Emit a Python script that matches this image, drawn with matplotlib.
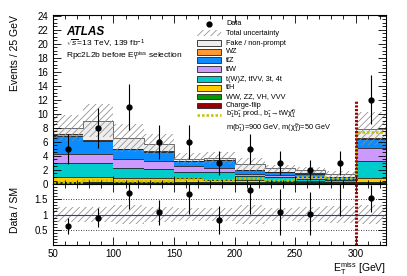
import numpy as np
import matplotlib
matplotlib.use("Agg")
import matplotlib.pyplot as plt
from matplotlib.patches import Rectangle
from matplotlib.ticker import MultipleLocator, FixedLocator

plt.rcParams['font.family'] = ['Liberation Sans', 'DejaVu Sans']
plt.rcParams['mathtext.fontset'] = 'custom'
plt.rcParams['mathtext.rm'] = 'Liberation Sans'
plt.rcParams['mathtext.it'] = 'Liberation Sans:italic'
plt.rcParams['mathtext.bf'] = 'Liberation Sans:bold'
plt.rcParams['hatch.linewidth'] = 0.55

# binning (last bin = overflow)
edges = [50, 75, 100, 125, 150, 175, 200, 225, 250, 275, 300, 325]

# background yields per bin
charge_flip = [0.15, 0.15, 0.15, 0.15, 0.15, 0.15, 0.15, 0.15, 0.15, 0.15, 0.15]
vv = [0.15, 0.15, 0.15, 0.15, 0.15, 0.15, 0.15, 0.15, 0.15, 0.15, 0.15]
tth = [0.65, 0.75, 0.6, 0.55, 0.5, 0.3, 0.25, 0.2, 0.15, 0.05, 0.6]
twz = [2.05, 1.95, 1.4, 1.25, 0.95, 1.15, 0.65, 0.55, 0.3, 0.2, 2.4]
ttw = [1.3, 1.25, 1.2, 1.2, 0.75, 0.55, 0.25, 0.25, 0.2, 0.1, 1.8]
ttz = [2.5, 1.95, 1.5, 1.3, 0.8, 1.1, 0.55, 0.4, 0.5, 0.3, 1.3]
wz = [0.3, 0.05, 0.05, 0.05, 0.05, 0.05, 0.05, 0.05, 0.05, 0.05, 0.1]
fake = [0.9, 2.8, 1.45, 1.05, 0.25, 0.25, 0.75, 0.5, 0.45, 0.4, 1.35]
total_unc = [1.9, 2.35, 2.0, 1.4, 0.8, 0.8, 0.9, 0.5, 0.45, 0.4, 2.35]

signal = [0.35, 0.55, 0.5, 0.45, 0.75, 0.55, 0.8, 0.55, 0.95, 0.8, 7.4]

data = [5, 8, 11, 6, 6, 3, 5, 3, 2, 3, 12]
data_err = [2.2, 2.8, 3.3, 2.4, 2.4, 1.7, 2.2, 1.7, 1.4, 1.7, 3.5]
ratio = [0.62, 0.9, 1.69, 1.07, 1.68, 0.81, 1.79, 1.09, 1.03, 2.15, 1.53]

tbar = 't\u0304'
samples = [
    (charge_flip, '#990000', 'Charge-flip'),
    (vv, '#009900', 'WW, ZZ, VH, VVV'),
    (tth, '#ffcc00', 't' + tbar + 'H'),
    (twz, '#00cccc', 't(W)Z, t' + tbar + 'VV, 3t, 4t'),
    (ttw, '#cc99ff', 't' + tbar + 'W'),
    (ttz, '#0a8cff', 't' + tbar + 'Z'),
    (wz, '#ff9933', 'WZ'),
    (fake, '#eeeeee', 'Fake / non-prompt'),
]

edges = np.array(edges)
centers = 0.5 * (edges[:-1] + edges[1:])

fig = plt.figure(figsize=(4.07, 2.76), dpi=100)
ax = fig.add_axes([0.130, 0.3333, 0.818, 0.6124])
rax = fig.add_axes([0.130, 0.1123, 0.818, 0.2210], sharex=ax)

bottom = np.zeros(len(data))
for vals, col, lab in samples:
    top = bottom + np.array(vals)
    ax.stairs(top, edges, baseline=bottom, fill=True, color=col, lw=0)
    ax.stairs(top, edges, baseline=None, color='#222222' if col != '#eeeeee' else '#555555', lw=0.6)
    bottom = top
total = bottom
unc = np.array(total_unc)

ax.stairs(total + unc, edges, baseline=total - unc, fill=True, facecolor='none',
          edgecolor='#8c8c8c', hatch='/////', lw=0)

ax.stairs(signal, edges, baseline=None, color='#c2c200', lw=1.8, linestyle=(0, (1.0, 0.8)))

ax.errorbar(centers, data, yerr=data_err, fmt='o', color='k', ms=3.5,
            elinewidth=0.8, capsize=0, zorder=10)

ax.plot([300, 300], [0, 12], color='#a00000', lw=2.2, linestyle=(0, (0.7, 0.5)), zorder=9)

ax.set_xlim(50, 325)
ax.set_ylim(0, 24.1)

# ratio panel
rel = unc / total
rax.stairs(1 + rel, edges, baseline=1 - rel, fill=True, facecolor='none',
           edgecolor='#8c8c8c', hatch='/////', lw=0)
rax.axhline(1, color='#3333cc', lw=0.8)
for yv in (0.5, 1.5):
    rax.axhline(yv, color='k', lw=0.6, linestyle=(0, (1, 2)))
rax.errorbar(centers, ratio, yerr=np.array(data_err) / total, fmt='o', color='k',
             ms=3.5, elinewidth=0.8, capsize=0, zorder=10)
rax.axvline(300, color='#a00000', lw=2.2, linestyle=(0, (0.7, 0.5)), zorder=9)
rax.set_ylim(0, 2)

for a in (ax, rax):
    a.tick_params(which='both', direction='in', top=True, right=True, labelsize=7)
    a.tick_params(which='major', length=5.5, width=0.6)
    a.tick_params(which='minor', length=3, width=0.6)
    a.xaxis.set_major_locator(MultipleLocator(50))
    a.xaxis.set_minor_locator(MultipleLocator(10))
    for s in a.spines.values():
        s.set_linewidth(0.8)
ax.tick_params(labelbottom=False)
ax.yaxis.set_major_locator(MultipleLocator(2))
ax.yaxis.set_minor_locator(MultipleLocator(0.5))
rax.yaxis.set_major_locator(FixedLocator([0.5, 1, 1.5]))
rax.yaxis.set_minor_locator(MultipleLocator(0.1))
rax.set_yticklabels(['0.5', '1', '1.5'])
rax.tick_params(axis='x', pad=3)

ax.set_ylabel('Events / 25 GeV', fontsize=7.5, loc='top')
ax.yaxis.set_label_coords(-0.10, 1.0)
rax.set_ylabel('Data / SM', fontsize=7.5)
rax.yaxis.set_label_coords(-0.10, 0.58)
rax.set_xlabel(r'E$_\mathrm{T}^\mathrm{miss}$ [GeV]', fontsize=7.5, loc='right')
rax.xaxis.set_label_coords(1.0, -0.25)

ax.text(0.039, 0.90, 'ATLAS', transform=ax.transAxes, fontsize=8.5,
        fontweight='bold', fontstyle='italic', va='center')
ax.text(0.039, 0.83, r'$\sqrt{s}$=13 TeV, 139 fb$^{-1}$', transform=ax.transAxes,
        fontsize=6, va='center')
ax.text(0.039, 0.757, r'Rpc2L2b before E$_\mathrm{T}^\mathrm{miss}$ selection',
        transform=ax.transAxes, fontsize=6, va='center')

# legend, drawn row by row
leg_rows = [0.947, 0.892, 0.834, 0.783, 0.732, 0.679, 0.621, 0.570, 0.517, 0.464, 0.410, 0.330]
bx0, bx1, tx = 0.432, 0.505, 0.520
bh = 0.034
legfs = 5.3
r = iter(leg_rows)

y = next(r)
ax.plot([(bx0 + bx1) / 2], [y], 'o', color='k', ms=3.5, transform=ax.transAxes, clip_on=False)
ax.text(tx, y, 'Data', transform=ax.transAxes, fontsize=legfs, va='center')
y = next(r)
ax.add_patch(Rectangle((bx0, y - bh / 2), bx1 - bx0, bh, transform=ax.transAxes,
                       facecolor='white', edgecolor='#8c8c8c', hatch='/////', lw=0))
ax.text(tx, y, 'Total uncertainty', transform=ax.transAxes, fontsize=legfs, va='center')
for vals, col, lab in samples[::-1]:
    y = next(r)
    ax.add_patch(Rectangle((bx0, y - bh / 2), bx1 - bx0, bh, transform=ax.transAxes,
                           facecolor=col, edgecolor='#222222', lw=0.6))
    ax.text(tx, y, lab, transform=ax.transAxes, fontsize=legfs, va='center')
y = next(r)
ax.plot([bx0, bx1], [y, y], color='#c2c200', lw=1.8, linestyle=(0, (1.0, 0.8)),
        transform=ax.transAxes)
ax.text(tx, y, 'b\u0303$_1$b\u0303$_1$ prod., b\u0303$_1$\u2192tW\u03c7\u0303$^0_1$',
        transform=ax.transAxes, fontsize=legfs, va='center')
y = next(r)
ax.text(tx, y, 'm(b\u0303$_1$)=900 GeV, m(\u03c7\u0303$^0_1$)=50 GeV',
        transform=ax.transAxes, fontsize=legfs, va='center')

fig.savefig('out.png', dpi=100)
